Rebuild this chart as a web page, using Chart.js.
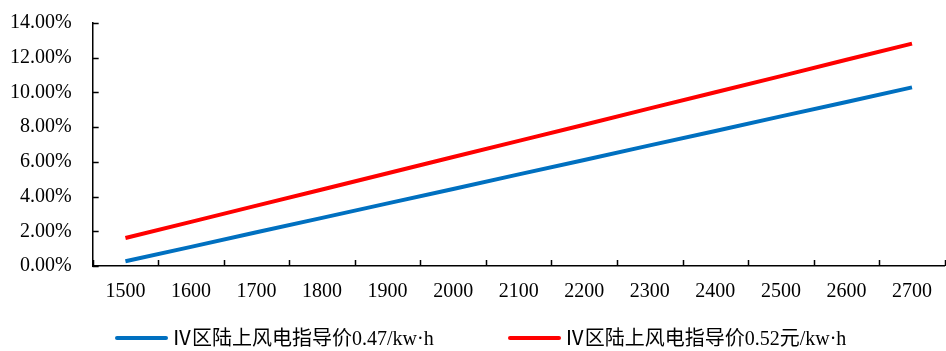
<!DOCTYPE html>
<html>
<head>
<meta charset="utf-8">
<script src="https://cdn.jsdelivr.net/npm/chart.js@4.4.1/dist/chart.umd.min.js"></script>
<style>
  html, body { margin: 0; padding: 0; background: #fff; }
  #wrap { position: relative; width: 946px; height: 351px; }
  #legend {
    position: absolute; left: 115px; top: 326px;
    display: flex; align-items: center;
    font-family: 'Liberation Serif', 'Noto Sans CJK SC', serif;
    font-size: 20px; line-height: 24px; color: #000; white-space: nowrap;
  }
  .item { display: flex; align-items: center; margin-right: 74px; }
  .swatch { display: inline-block; width: 53px; height: 4px; margin-right: 4px; border-radius: 2px; }
</style>
</head>
<body>
<div id="wrap"><canvas id="c"></canvas><div id="legend"></div></div>
<script>
// 利用小时数
const categories = ["1500", "1600", "1700", "1800", "1900", "2000", "2100", "2200", "2300", "2400", "2500", "2600", "2700"];
// IRR
const blueValues = [0.0027, 0.0110, 0.0194, 0.0277, 0.0361, 0.0444, 0.0528, 0.0611, 0.0695, 0.0778, 0.0862, 0.0945, 0.1029];
const redValues = [0.0161, 0.0254, 0.0348, 0.0441, 0.0534, 0.0628, 0.0721, 0.0814, 0.0908, 0.1001, 0.1094, 0.1188, 0.1281];
const seriesNames = ["Ⅳ区陆上风电指导价0.47/kw·h", "Ⅳ区陆上风电指导价0.52元/kw·h"];
const yTicks = [0, 0.02, 0.04, 0.06, 0.08, 0.10, 0.12, 0.14];

const font = "'Liberation Serif', 'Times New Roman', 'Noto Sans CJK SC', serif";

// tick marks pointing into the plot, like the original
const innerTicks = {
    id: "innerTicks",
    afterDraw(chart) {
        const { ctx, chartArea, scales: { x, y } } = chart;
        ctx.save();
        ctx.strokeStyle = "#000";
        ctx.lineWidth = 1.5;
        ctx.beginPath();
        for (let i = 0; i <= categories.length; i++) {
            const px = Math.round(x.getPixelForValue(i - 0.5)) + 0.5;
            ctx.moveTo(px, chartArea.bottom);
            ctx.lineTo(px, chartArea.bottom - 6);
        }
        yTicks.forEach(v => {
            const py = Math.round(y.getPixelForValue(v)) + 0.5;
            ctx.moveTo(chartArea.left, py);
            ctx.lineTo(chartArea.left + 6, py);
        });
        ctx.stroke();
        ctx.restore();
    }
};

const chart = new Chart(document.getElementById("c"), {
    type: "line",
    data: {
        labels: categories,
        datasets: [
            {
                label: seriesNames[0],
                data: blueValues,
                borderColor: "#0070C0",
                backgroundColor: "#0070C0",
                borderWidth: 4,
                pointRadius: 0,
                tension: 0
            },
            {
                label: seriesNames[1],
                data: redValues,
                borderColor: "#FF0000",
                backgroundColor: "#FF0000",
                borderWidth: 4,
                pointRadius: 0,
                tension: 0
            }
        ]
    },
    plugins: [innerTicks],
    options: {
        responsive: true,
        maintainAspectRatio: false,
        animation: false,
        // tick padding counts twice in chart.js axis sizes, hence the odd numbers
        layout: { padding: { top: 23, right: 0, left: -11, bottom: 33 } },
        plugins: {
            tooltip: { enabled: false },
            legend: { display: false }
        },
        scales: {
            x: {
                offset: true,
                grid: { display: false, drawTicks: false },
                border: { color: "#000", width: 1.5 },
                ticks: {
                    color: "#000",
                    font: { family: font, size: 20 },
                    maxRotation: 0,
                    padding: 14
                }
            },
            y: {
                min: 0,
                max: 0.14,
                afterBuildTicks: axis => { axis.ticks = yTicks.map(v => ({ value: v })); },
                afterFit: axis => { axis.paddingTop = 0; axis.paddingBottom = 0; },
                grid: { display: false, drawTicks: false },
                border: { color: "#000", width: 1.5 },
                ticks: {
                    color: "#000",
                    font: { family: font, size: 20 },
                    padding: 21,
                    callback: v => (v * 100).toFixed(2) + "%"
                }
            }
        }
    }
});

// legend in html, built from the chart's datasets
const legendBox = document.getElementById("legend");
chart.data.datasets.forEach(ds => {
    const item = document.createElement("span");
    item.className = "item";
    const sw = document.createElement("span");
    sw.className = "swatch";
    sw.style.background = ds.borderColor;
    const txt = document.createElement("span");
    txt.textContent = ds.label;
    item.appendChild(sw);
    item.appendChild(txt);
    legendBox.appendChild(item);
});
</script>
</body>
</html>
